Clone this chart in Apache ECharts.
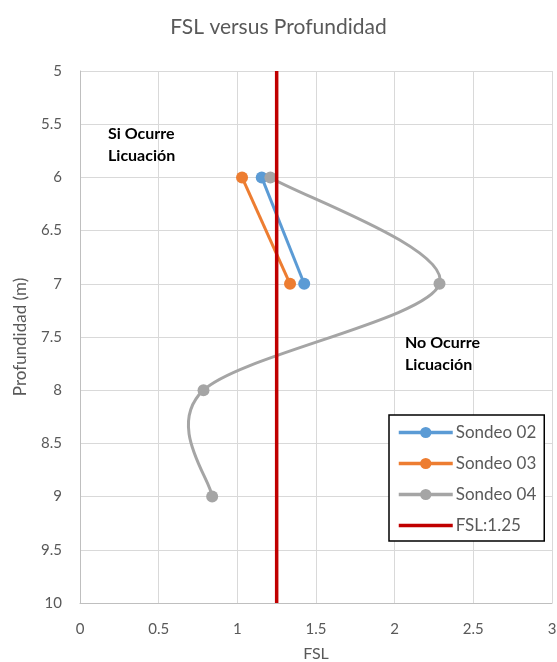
<!DOCTYPE html>
<html>
<head>
<meta charset="utf-8">
<script src="https://cdn.jsdelivr.net/npm/echarts@6/dist/echarts.min.js"></script>
<style>
  html, body { margin: 0; padding: 0; background: #fff; }
  #chart { width: 557px; height: 662px; }
</style>
</head>
<body>
<div id="chart"></div>
<script>
// Factor de seguridad (FSL) por profundidad para cada sondeo
const depths02 = [6, 7];
const fsl02 = [1.155, 1.425];
const depths03 = [6, 7];
const fsl03 = [1.03, 1.335];
const depths04 = [6, 7, 8, 9];
const fsl04 = [1.21, 2.285, 0.785, 0.84];
const fslLimit = 1.25;
const depthRange = [5, 10];

const xTicks = ['0', '0.5', '1', '1.5', '2', '2.5', '3'];
const yTicks = ['5', '5.5', '6', '6.5', '7', '7.5', '8', '8.5', '9', '9.5', '10'];

const pairs = (xs, ys) => xs.map((x, i) => [x, ys[i]]);

const FONT = 'Lato, "Open Sans", sans-serif';
const GREY = '#a5a5a5';
const chart = echarts.init(document.getElementById('chart'));

const lineSeries = (name, color, data) => ({
  name: name,
  type: 'line',
  data: data,
  symbol: 'circle',
  symbolSize: 12,
  lineStyle: { color: color, width: 3 },
  itemStyle: { color: color },
  emphasis: { disabled: true },
  z: 3
});

// Smoothed path for Sondeo 04: cubic Bezier segments through the points,
// control points taken from the neighbouring points (Catmull-Rom, 1/6 tension).
function renderSmoothSegment(params, api) {
  const i = params.dataIndex;
  const n = fsl04.length;
  if (i >= n - 1) return null;
  const at = k => {
    const j = Math.max(0, Math.min(n - 1, k));
    return api.coord([fsl04[j], depths04[j]]);
  };
  const p0 = at(i - 1), p1 = at(i), p2 = at(i + 1), p3 = at(i + 2);
  return {
    type: 'bezierCurve',
    shape: {
      x1: p1[0], y1: p1[1],
      x2: p2[0], y2: p2[1],
      cpx1: p1[0] + (p2[0] - p0[0]) / 6, cpy1: p1[1] + (p2[1] - p0[1]) / 6,
      cpx2: p2[0] - (p3[0] - p1[0]) / 6, cpy2: p2[1] - (p3[1] - p1[1]) / 6
    },
    style: { stroke: GREY, lineWidth: 3, fill: null, lineCap: 'round' }
  };
}

chart.setOption({
  animation: false,
  backgroundColor: '#ffffff',
  title: {
    text: 'FSL versus Profundidad',
    left: 'center',
    top: 12,
    textStyle: { fontFamily: FONT, fontSize: 21, fontWeight: 'normal', color: '#595959' }
  },
  grid: { left: 80, right: 5, top: 71, bottom: 59, outerBoundsMode: 'none', containLabel: false },
  xAxis: {
    type: 'value',
    min: 0, max: 3, interval: 0.5,
    name: 'FSL',
    nameLocation: 'middle',
    nameGap: 43,
    nameTextStyle: { fontFamily: FONT, fontSize: 16, color: '#595959' },
    axisLine: { show: true, lineStyle: { color: '#bfbfbf', width: 1 } },
    axisTick: { show: false },
    axisLabel: {
      fontFamily: FONT, fontSize: 15, color: '#595959', margin: 19,
      formatter: v => xTicks[Math.round(v / 0.5)]
    },
    splitLine: { show: true, lineStyle: { color: '#d9d9d9', width: 1 } }
  },
  yAxis: {
    type: 'value',
    inverse: true,
    min: depthRange[0], max: depthRange[1], interval: 0.5,
    name: 'Profundidad (m)',
    nameLocation: 'middle',
    nameGap: 51,
    nameRotate: 90,
    nameTextStyle: { fontFamily: FONT, fontSize: 17, color: '#595959' },
    axisLine: { show: true, lineStyle: { color: '#bfbfbf', width: 1 } },
    axisTick: { show: false },
    axisLabel: {
      fontFamily: FONT, fontSize: 15, color: '#595959', margin: 18,
      formatter: v => yTicks[Math.round((v - 5) / 0.5)]
    },
    splitLine: { show: true, lineStyle: { color: '#d9d9d9', width: 1 } }
  },
  legend: {
    orient: 'vertical',
    left: 389,
    top: 415,
    padding: [9, 8, 7, 8],
    itemWidth: 54,
    itemHeight: 14,
    itemGap: 14,
    backgroundColor: '#ffffff',
    borderColor: '#000000',
    borderWidth: 1.5,
    lineStyle: { width: 3.5 },
    textStyle: { fontFamily: FONT, fontSize: 17, color: '#595959', padding: [0, 4, 0, -2] },
    data: [
      'Sondeo 02',
      'Sondeo 03',
      { name: 'Sondeo 04', lineStyle: { color: GREY, width: 3.5, opacity: 1 } },
      { name: 'FSL:1.25', itemStyle: { opacity: 0 } }
    ]
  },
  graphic: [
    {
      type: 'text', left: 108, top: 123, z: 10,
      style: { text: 'Si Ocurre\nLicuación', font: 'bold 16px ' + FONT, fill: '#000', lineHeight: 22 }
    },
    {
      type: 'text', left: 405, top: 332, z: 10,
      style: { text: 'No Ocurre\nLicuación', font: 'bold 16px ' + FONT, fill: '#000', lineHeight: 22 }
    }
  ],
  series: [
    lineSeries('Sondeo 02', '#5b9bd5', pairs(fsl02, depths02)),
    lineSeries('Sondeo 03', '#ed7d31', pairs(fsl03, depths03)),
    {
      type: 'custom',
      data: pairs(fsl04, depths04),
      encode: { x: 0, y: 1 },
      renderItem: renderSmoothSegment,
      silent: true,
      z: 3
    },
    {
      name: 'Sondeo 04',
      type: 'line',
      data: pairs(fsl04, depths04),
      symbol: 'circle',
      symbolSize: 12,
      lineStyle: { color: GREY, width: 3, opacity: 0 },
      itemStyle: { color: GREY },
      emphasis: { disabled: true },
      z: 3
    },
    {
      name: 'FSL:1.25',
      type: 'line',
      data: [[fslLimit, depthRange[0]], [fslLimit, depthRange[1]]],
      symbol: 'none',
      lineStyle: { color: '#c00000', width: 3.5 },
      itemStyle: { color: '#c00000' },
      emphasis: { disabled: true },
      z: 4
    }
  ]
});
</script>
</body>
</html>
